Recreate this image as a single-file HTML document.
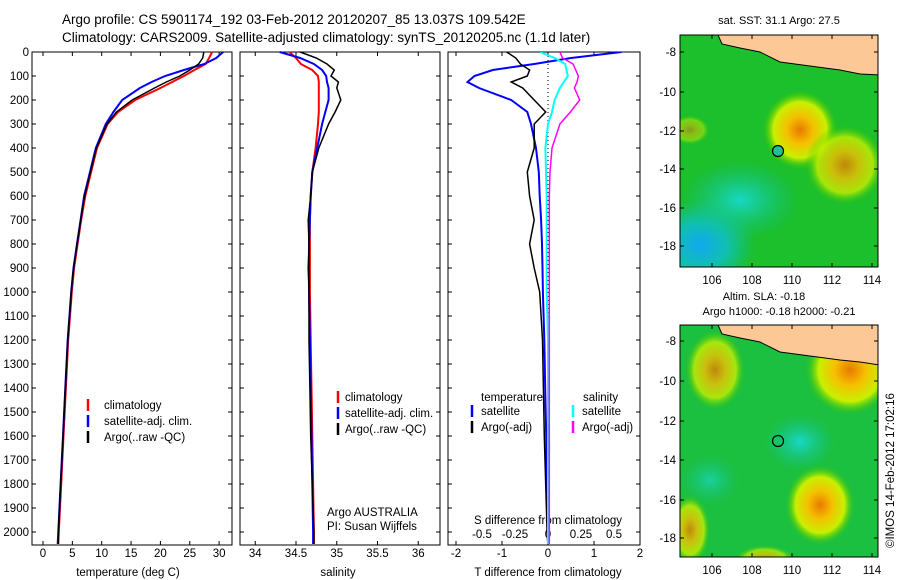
<!DOCTYPE html>
<html><head><meta charset="utf-8"><style>
body{margin:0;background:#fff}
svg{display:block;font-family:"Liberation Sans",sans-serif}
text{font-size:12px;fill:#000}
</style></head><body>
<svg id="c" width="900" height="580" viewBox="0 0 900 580">
<defs>
<radialGradient id="y1" cx="50%" cy="50%" r="50%"><stop offset="0" stop-color="#e87a00"/><stop offset="0.35" stop-color="#f5c000"/><stop offset="0.7" stop-color="#c8f000"/><stop offset="1" stop-color="#2cc000" stop-opacity="0"/></radialGradient>
<radialGradient id="b1" cx="50%" cy="50%" r="50%"><stop offset="0" stop-color="#10a8f0"/><stop offset="0.5" stop-color="#10c0b0"/><stop offset="1" stop-color="#10c0a0" stop-opacity="0"/></radialGradient>
<radialGradient id="c2" cx="50%" cy="50%" r="50%"><stop offset="0" stop-color="#18d8c8"/><stop offset="1" stop-color="#10c090" stop-opacity="0"/></radialGradient>
<clipPath id="m1"><rect x="680" y="35" width="198" height="232"/></clipPath>
<clipPath id="m2"><rect x="680" y="325" width="198" height="232"/></clipPath>
<clipPath id="p3"><rect x="448" y="52" width="192" height="493"/></clipPath>
</defs>
<text x="62" y="24" style="font-size:13.5px">Argo profile: CS 5901174_192 03-Feb-2012 20120207_85 13.037S 109.542E</text>
<text x="62" y="42" style="font-size:13.5px">Climatology: CARS2009. Satellite-adjusted climatology: synTS_20120205.nc (1.1d later)</text>

<g clip-path="url(#m1)">
<rect x="680" y="35" width="198" height="232" fill="#1cbf2c"/>
<ellipse cx="700" cy="245" rx="55" ry="45" fill="url(#b1)"/>
<ellipse cx="740" cy="200" rx="60" ry="40" fill="url(#c2)"/>
<ellipse cx="800" cy="130" rx="38" ry="40" fill="url(#y1)"/>
<ellipse cx="845" cy="165" rx="40" ry="40" fill="url(#y1)" opacity="0.8"/>
<ellipse cx="690" cy="130" rx="20" ry="15" fill="url(#y1)" opacity="0.5"/>
<path d="M718,35 L880,35 L880,75 L860,74 L840,70 L810,66 L780,62 L760,52 L740,48 L722,44 Z" fill="#fcc896" stroke="#000" stroke-width="1"/>
<circle cx="778" cy="151" r="5.5" fill="#20c090" stroke="#000" stroke-width="1.2"/>
</g>
<rect x="680" y="35" width="198" height="232" fill="none" stroke="#000"/>
<text x="779" y="24" text-anchor="middle" style="font-size:11px">sat. SST: 31.1  Argo: 27.5</text>
<g clip-path="url(#m2)">
<rect x="680" y="325" width="198" height="232" fill="#1cc040"/>
<ellipse cx="715" cy="370" rx="30" ry="40" fill="url(#y1)" opacity="0.8"/>
<ellipse cx="850" cy="370" rx="45" ry="45" fill="url(#y1)"/>
<ellipse cx="820" cy="505" rx="35" ry="40" fill="url(#y1)"/>
<ellipse cx="690" cy="530" rx="20" ry="35" fill="url(#y1)" opacity="0.8"/>
<ellipse cx="765" cy="560" rx="30" ry="15" fill="url(#y1)" opacity="0.7"/>
<ellipse cx="800" cy="442" rx="35" ry="28" fill="url(#c2)"/>
<ellipse cx="710" cy="480" rx="30" ry="25" fill="url(#c2)" opacity="0.7"/>
<path d="M718,325 L880,325 L880,365 L860,362 L840,360 L810,356 L780,352 L760,342 L740,338 L722,334 Z" fill="#fcc896" stroke="#000" stroke-width="1"/>
<circle cx="778" cy="441" r="5.5" fill="none" stroke="#000" stroke-width="1.2"/>
</g>
<rect x="680" y="325" width="198" height="232" fill="none" stroke="#000"/>
<text x="764" y="300" text-anchor="middle" style="font-size:11px">Altim. SLA: -0.18</text>
<text x="779" y="315" text-anchor="middle" style="font-size:11px">Argo h1000: -0.18 h2000: -0.21</text>
<text transform="translate(894,548) rotate(-90)" style="font-size:11.5px">©IMOS 14-Feb-2012 17:02:16</text>
<g id="axes"></g>
</svg>
<script>
// ---- data ----
const depths = [0,25,50,75,100,125,150,200,250,300,400,500,600,700,800,900,1000,1200,1400,1600,1800,2000,2050];
const tempClim = [28.8,28.3,27.7,25.8,24,22,20,15.7,12.8,11,9.2,8.2,7.2,6.5,5.9,5.3,4.9,4.3,3.9,3.5,3.1,2.7,2.6];
const tempSat  = [30.7,29.5,27.5,24,20.8,18.5,16.5,13.5,12,10.7,9.0,8.0,7.0,6.4,5.8,5.2,4.8,4.2,3.8,3.4,3.0,2.6,2.5];
const tempArgo = [27.4,27.2,26.5,25,23.3,21,19,15.2,12.5,10.9,9.1,8.1,7.1,6.4,5.8,5.2,4.8,4.2,3.8,3.4,3.0,2.6,2.6];
const salClim = [34.42,34.5,34.56,34.7,34.77,34.78,34.78,34.78,34.78,34.77,34.74,34.7,34.68,34.67,34.67,34.67,34.67,34.68,34.69,34.7,34.71,34.72,34.72];
const salSat  = [34.3,34.55,34.72,34.82,34.87,34.88,34.9,34.9,34.86,34.82,34.76,34.7,34.68,34.67,34.66,34.66,34.66,34.67,34.68,34.69,34.7,34.71,34.71];
const salArgo = [34.55,34.75,34.88,34.97,34.93,35.02,35.0,35.05,34.98,34.9,34.78,34.7,34.68,34.65,34.66,34.65,34.66,34.66,34.67,34.68,34.7,34.72,34.72];
const tDiffSat  = [1.6,0.5,-0.3,-1.2,-1.6,-1.75,-1.5,-0.8,-0.45,-0.37,-0.26,-0.2,-0.18,-0.15,-0.13,-0.12,-0.11,-0.08,-0.06,-0.04,-0.03,-0.01,0];
const tDiffArgo = [-0.9,-0.7,-0.6,-0.4,-0.45,-0.8,-0.55,-0.3,-0.05,-0.3,-0.3,-0.45,-0.4,-0.3,-0.4,-0.3,-0.18,-0.12,-0.1,-0.08,-0.05,-0.02,0];
const sDiffSat  = [-0.06,0.05,0.13,0.14,0.15,0.12,0.09,0.05,0.03,0,-0.02,-0.015,-0.01,-0.01,-0.01,-0.01,-0.01,0,0,0,0,0,0];
const sDiffArgo = [0.09,0.11,0.19,0.21,0.23,0.22,0.2,0.24,0.17,0.09,0.03,0.015,0.01,0.01,0.01,0.01,0.01,0.01,0.01,0.01,0.01,0.01,0.01];
const depthTicks = [0,100,200,300,400,500,600,700,800,900,1000,1100,1200,1300,1400,1500,1600,1700,1800,1900,2000];
const tempTicks = [0,5,10,15,20,25,30];
const salTicks = [34,34.5,35,35.5,36];
const salTickLabels = ["34","34.5","35","35.5","36"];
const tdTicks = [-2,-1,0,1,2];
const tdTickLabels = ["-2","-1","0","1","2"];
const sdTicks = [-0.5,-0.25,0,0.25,0.5];
const sdTickLabels = ["-0.5","-0.25","0","0.25","0.5"];
const lonTicks = [106,108,110,112,114];
const latTicks = [-8,-10,-12,-14,-16,-18];

const NS = "http://www.w3.org/2000/svg";
const g = document.getElementById('axes');
function el(tag, attrs, parent){const e=document.createElementNS(NS,tag);for(const k in attrs)e.setAttribute(k,attrs[k]);(parent||g).appendChild(e);return e;}
function txt(x,y,s,anchor,size){const t=el('text',{x:x,y:y,'text-anchor':anchor||'middle'});if(size)t.style.fontSize=size+'px';t.textContent=s;return t;}
const TOP=52, BOT=545;
const yD = d => TOP + d*0.24;
const xT = v => 43 + v*5.87;
const xS = v => 296 + (v-34.5)*81.5;
const xTD = v => 548 + v*46;
const xSD = v => 548 + v*132;
function line(xf, vals, color, w, name, clip){
  let d='';vals.forEach((v,i)=>{d+=(i?'L':'M')+xf(v).toFixed(1)+','+yD(depths[i]).toFixed(1);});
  const p=el('path',{d:d,fill:'none',stroke:color,'stroke-width':w});
  if(clip)p.setAttribute('clip-path','url(#p3)');
  
  
}
function panel(x0,x1,name){
  const r=el('rect',{x:x0,y:TOP,width:x1-x0,height:BOT-TOP,fill:'none',stroke:'#000'});
  
  
  depthTicks.forEach(d=>{el('line',{x1:x0,x2:x0+4,y1:yD(d),y2:yD(d),stroke:'#000'});el('line',{x1:x1,x2:x1-4,y1:yD(d),y2:yD(d),stroke:'#000'});});
}
// Panel 1
panel(32,232,'temperature-panel');
depthTicks.forEach(d=>{const t=txt(29,yD(d)+4,String(d),'end',11.5);});
tempTicks.forEach(v=>{el('line',{x1:xT(v),x2:xT(v),y1:BOT,y2:BOT-4,stroke:'#000'});el('line',{x1:xT(v),x2:xT(v),y1:TOP,y2:TOP+4,stroke:'#000'});txt(xT(v),557,String(v),'middle',11.5);});
txt(128,576,'temperature (deg C)','middle',11.5);
line(xT,tempClim,'#ff0000',2,'temp-climatology-line');
line(xT,tempSat,'#0000ff',2,'temp-satellite-line');
line(xT,tempArgo,'#000',1.5,'temp-argo-line');
[['#f00','climatology'],['#00f','satellite-adj. clim.'],['#000','Argo(..raw -QC)']].forEach((l,i)=>{el('line',{x1:88,x2:88,y1:399+i*16,y2:411+i*16,stroke:l[0],'stroke-width':2.5});txt(104,409+i*16,l[1],'start',11.5);});
// Panel 2
panel(240,440,'salinity-panel');
salTicks.forEach((v,i)=>{el('line',{x1:xS(v),x2:xS(v),y1:BOT,y2:BOT-4,stroke:'#000'});el('line',{x1:xS(v),x2:xS(v),y1:TOP,y2:TOP+4,stroke:'#000'});txt(xS(v),557,salTickLabels[i],'middle',11.5);});
txt(338,576,'salinity','middle',11.5);
line(xS,salClim,'#ff0000',2,'sal-climatology-line');
line(xS,salSat,'#0000ff',2,'sal-satellite-line');
line(xS,salArgo,'#000',1.5,'sal-argo-line');
[['#f00','climatology'],['#00f','satellite-adj. clim.'],['#000','Argo(..raw -QC)']].forEach((l,i)=>{el('line',{x1:338,x2:338,y1:391+i*16,y2:403+i*16,stroke:l[0],'stroke-width':2.5});txt(345,401+i*16,l[1],'start',11.5);});
txt(327,516,'Argo AUSTRALIA','start',11.5);
txt(327,530,'PI: Susan Wijffels','start',11.5);
// Panel 3
panel(448,640,'difference-panel');
el('line',{x1:548,x2:548,y1:TOP,y2:BOT,stroke:'#000','stroke-dasharray':'1,3'});
tdTicks.forEach((v,i)=>{el('line',{x1:xTD(v),x2:xTD(v),y1:BOT,y2:BOT-4,stroke:'#000'});el('line',{x1:xTD(v),x2:xTD(v),y1:TOP,y2:TOP+4,stroke:'#000'});txt(xTD(v),557,tdTickLabels[i],'middle',11.5);});
sdTicks.forEach((v,i)=>{txt(xSD(v),538,sdTickLabels[i],'middle',11.5);});
txt(548,524,'S difference from climatology','middle',11.5);
txt(548,576,'T difference from climatology','middle',11.5);
line(xTD,tDiffSat,'#0000ff',2,'tdiff-satellite-line',true);
line(xTD,tDiffArgo,'#000',1.5,'tdiff-argo-line',true);
line(xSD,sDiffSat,'#00ffff',2,'sdiff-satellite-line',true);
line(xSD,sDiffArgo,'#ff00ff',1.5,'sdiff-argo-line',true);
txt(481,401,'temperature','start',11.5);txt(583,401,'salinity','start',11.5);
[['#00f','satellite',472],['#000','Argo(-adj)',472],['#0ff','satellite',573],['#f0f','Argo(-adj)',573]].forEach((l,i)=>{const k=i%2;el('line',{x1:l[2],x2:l[2],y1:405+k*16,y2:417+k*16,stroke:l[0],'stroke-width':2.5});txt(l[2]+9,415+k*16,l[1],'start',11.5);});
// map axes
function mapAxes(top,bottom,latY){
  lonTicks.forEach(v=>{const x=712+(v-106)*20;el('line',{x1:x,x2:x,y1:bottom,y2:bottom-4,stroke:'#000'});el('line',{x1:x,x2:x,y1:top,y2:top+4,stroke:'#000'});txt(x,bottom+17,String(v),'middle',11.5);});
  latTicks.forEach((v,i)=>{const y=latY[i];el('line',{x1:680,x2:684,y1:y,y2:y,stroke:'#000'});el('line',{x1:878,x2:874,y1:y,y2:y,stroke:'#000'});txt(676,y+4,String(v),'end',11.5);});
}
mapAxes(35,267,[52,92,131,169,208,246]);
mapAxes(325,557,[341,381,421,460,500,538]);
</script>
</body></html>
